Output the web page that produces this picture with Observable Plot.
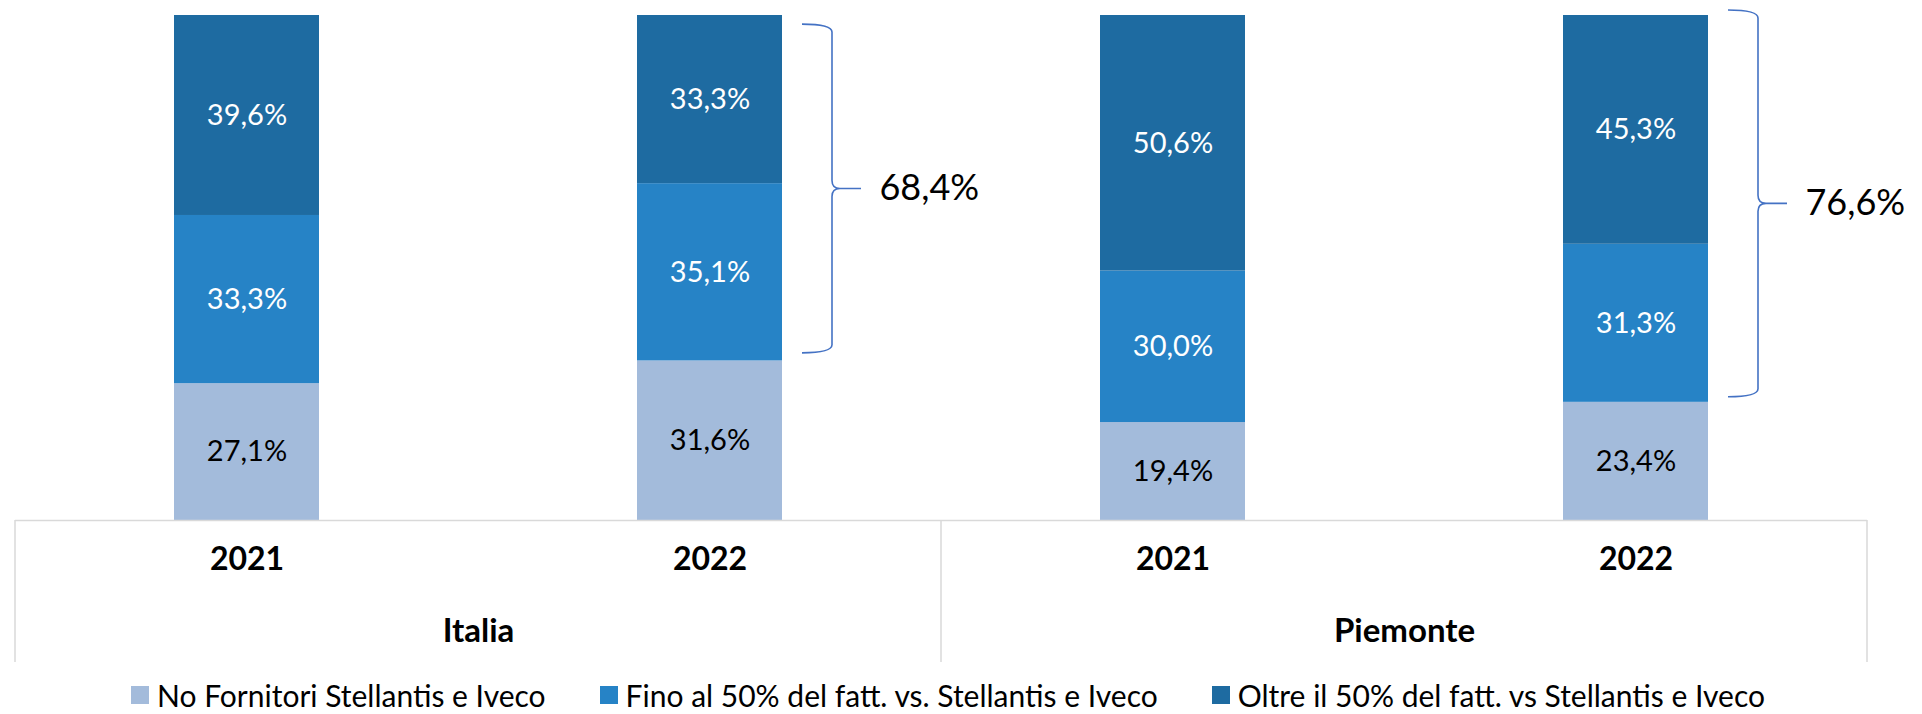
<!DOCTYPE html>
<html>
<head>
<meta charset="utf-8">
<script src="https://cdn.jsdelivr.net/npm/d3@7"></script>
<script src="https://cdn.jsdelivr.net/npm/@observablehq/plot@0.6"></script>
<style>
  html, body { margin: 0; padding: 0; background: #fff; overflow: hidden; }
  #chart svg { display: block; }
  #legend { display: flex; justify-content: center; align-items: center; height: 38px;
            font-family: Lato, sans-serif; font-size: 30px; line-height: 34px; color: #000; padding-right: 26px; }
  #legend .item { display: flex; align-items: center; margin: 0 27px; white-space: nowrap; }
  #legend .sw { width: 18px; height: 18px; margin-right: 8px; }
</style>
</head>
<body>
<div id="chart"></div>
<div id="legend"></div>
<script>
// ---- data ----
const groups = ["Italia", "Piemonte"];
const years = ["2021", "2022"];
const categories = [
  "No Fornitori Stellantis e Iveco",
  "Fino al 50% del fatt. vs. Stellantis e Iveco",
  "Oltre il 50% del fatt. vs Stellantis e Iveco"
];
const colors = ["#A3BBDB", "#2683C6", "#1E6BA1"];
// order of bars: Italia 2021, Italia 2022, Piemonte 2021, Piemonte 2022
const noFornitori = [27.1, 31.6, 19.4, 23.4];
const fino50 = [33.3, 35.1, 30.0, 31.3];
const oltre50 = [39.6, 33.3, 50.6, 45.3];
// braces (annotation): which bar, lower and upper value spanned, label
const braceBar = ["Italia|2022", "Piemonte|2022"];
const braceLow = [33.1, 24.4];
const braceHigh = [98.2, 101.0];
const braceText = ["68,4%", "76,6%"];

// ---- build table ----
const fmt = v => v.toFixed(1).replace(".", ",") + "%";
const bars = groups.flatMap(g => years.map(y => g + "|" + y));
const series = [noFornitori, fino50, oltre50];
const rows = [];
bars.forEach((b, i) => categories.forEach((c, j) => rows.push({bar: b, category: c, value: series[j][i]})));
const braceData = braceBar.map((b, i) => ({bar: b, lo: braceLow[i], hi: braceHigh[i], mid: (braceLow[i] + braceHigh[i]) / 2, text: braceText[i]}));

// ---- layout ----
const W = 1922, H = 676, mT = 15, mB = 156, mL = 15, mR = 55;
const pInner = 0.687, pOuter = pInner / 2;
const step = (W - mL - mR) / bars.length;
const bandwidth = step * (1 - pInner);
const axisDepth = 142;
const gridColor = "#D9D9D9";
const braceColor = "#4472C4";

const decorations = (index, scales, values, dimensions) => {
  const g = d3.create("svg:g");
  const x = scales.x, y = scales.y;
  const bw = x.bandwidth ? x.bandwidth() : bandwidth;
  const y0 = y(0);
  const {width, marginLeft, marginRight} = dimensions;
  const mid = (x(bars[1]) + bw + x(bars[2])) / 2;
  g.selectAll("line").data([marginLeft, mid, width - marginRight]).join("line")
    .attr("x1", d => d).attr("x2", d => d)
    .attr("y1", y0).attr("y2", y0 + axisDepth)
    .attr("stroke", gridColor).attr("stroke-width", 1.5);
  const r = 8;
  g.selectAll("path").data(braceData).join("path")
    .attr("fill", "none").attr("stroke", braceColor).attr("stroke-width", 1.6)
    .attr("d", d => {
      const xr = x(d.bar) + bw;
      const xl = xr + 20, xv = xr + 50, xt = xr + 79;
      const yt = y(d.hi), yb = y(d.lo), ym = y(d.mid);
      return `M${xl},${yt} Q${xv},${yt} ${xv},${yt + r} L${xv},${ym - r} Q${xv},${ym} ${xv + r},${ym} L${xt},${ym}` +
             ` M${xv + r},${ym} Q${xv},${ym} ${xv},${ym + r} L${xv},${yb - r} Q${xv},${yb} ${xl},${yb}`;
    });
  return g.node();
};

const plot = Plot.plot({
  width: W, height: H,
  marginTop: mT, marginBottom: mB, marginLeft: mL, marginRight: mR,
  style: {fontFamily: "Lato, sans-serif", background: "white", color: "black"},
  x: {domain: bars, paddingInner: pInner, paddingOuter: pOuter, axis: null},
  y: {domain: [0, 100], axis: null},
  color: {domain: categories, range: colors},
  marks: [
    Plot.barY(rows, Plot.stackY({x: "bar", y: "value", z: "category", fill: "category", order: categories})),
    Plot.text(rows, Plot.stackY({x: "bar", y: "value", z: "category", order: categories,
      text: d => d.category === categories[0] ? fmt(d.value) : "", fill: "black", fontSize: 29})),
    Plot.text(rows, Plot.stackY({x: "bar", y: "value", z: "category", order: categories,
      text: d => d.category !== categories[0] ? fmt(d.value) : "", fill: "white", fontSize: 29})),
    Plot.ruleY([0], {stroke: gridColor, strokeWidth: 1.5}),
    Plot.text(bars, {x: d => d, text: d => d.split("|")[1], frameAnchor: "bottom", dy: 49,
      fontSize: 32, fontWeight: "bold", fill: "black"}),
    Plot.text(groups, {x: g => g + "|" + years[0], text: d => d, frameAnchor: "bottom", dy: 121, dx: step / 2,
      fontSize: 33, fontWeight: "bold", fill: "black"}),
    decorations,
    Plot.text(braceData, {x: "bar", y: "mid", text: "text", dx: bandwidth / 2 + 97, textAnchor: "start",
      fontSize: 36, fill: "black"})
  ]
});
document.getElementById("chart").appendChild(plot);

// ---- legend ----
const legend = d3.select("#legend");
categories.forEach((c, i) => {
  const item = legend.append("div").attr("class", "item");
  item.append("div").attr("class", "sw").style("background", colors[i]);
  item.append("span").text(c);
});
</script>
</body>
</html>
